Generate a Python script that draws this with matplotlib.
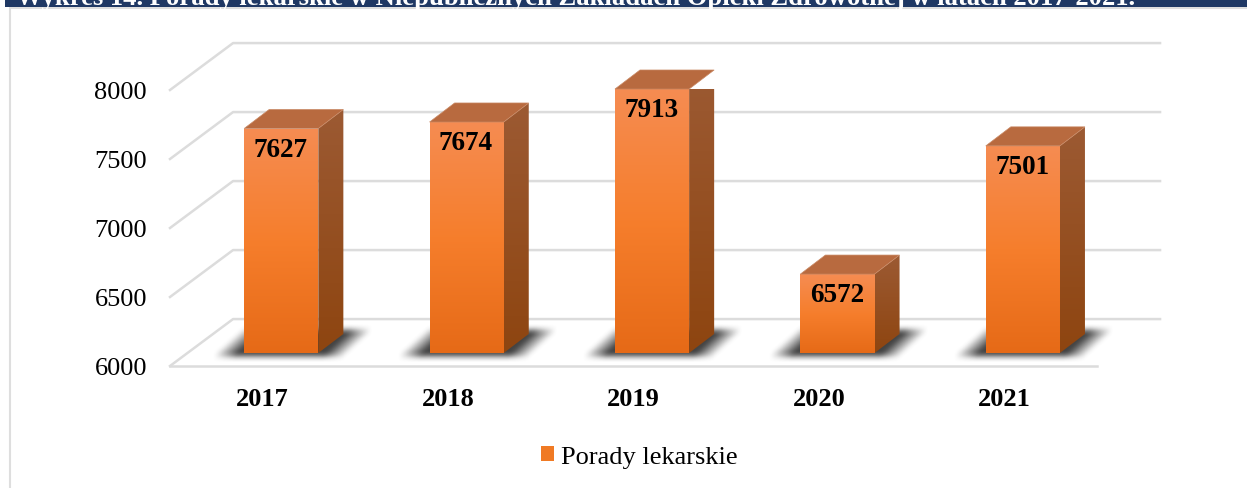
import numpy as np
import matplotlib
matplotlib.use("Agg")
import matplotlib.pyplot as plt
from matplotlib.colors import LinearSegmentedColormap
from matplotlib.patches import Patch, Polygon, Rectangle

plt.rcParams['font.family'] = ['Liberation Serif', 'DejaVu Serif']

years = ['2017', '2018', '2019', '2020', '2021']
porady = [7627, 7674, 7913, 6572, 7501]
yticks = [6000, 6500, 7000, 7500, 8000]
series_name = 'Porady lekarskie'
title = 'Wykres 14. Porady lekarskie w Niepublicznych Zakładach Opieki Zdrowotnej w latach 2017-2021.'

W, H = 1247, 489
fig = plt.figure(figsize=(W / 100, H / 100), dpi=100)
ax = fig.add_axes([170 / W, 1 - 367 / H, 927 / W, 276 / H])
ax.set_xlim(-0.5, 4.5)
ax.set_ylim(6000, 8000)

# depth of the fake 3d box, in data units
floor_dx, floor_dy = 0.34, 340
bar_off_x, bar_off_y = 0.10, 94
bar_dx, bar_dy = 0.135, 138
bar_w = 0.40

grid_c = '#dcdcdc'
for v in yticks:
    xs = [-0.5, -0.5 + floor_dx, 4.5 + floor_dx]
    ys = [v, v + floor_dy, v + floor_dy]
    ax.plot(xs, ys, color=grid_c, lw=1.8, clip_on=False, zorder=1)
ax.plot([-0.5, 4.5], [6000, 6000], color=grid_c, lw=1.8, clip_on=False, zorder=1)

front_cm = LinearSegmentedColormap.from_list('front', ['#e66a17', '#f67e2c', '#f58c52'])
side_cm = LinearSegmentedColormap.from_list('side', ['#8e4510', '#9c5a33'])


def gradient(poly, extent, cmap, z):
    g = np.linspace(0, 1, 128).reshape(-1, 1)
    im = ax.imshow(g, extent=extent, origin='lower', cmap=cmap, aspect='auto', zorder=z)
    patch = Polygon(poly, closed=True, transform=ax.transData, fill=False, lw=0)
    ax.add_patch(patch)
    patch.set_visible(False)
    im.set_clip_path(patch)
    im.set_clip_box(None)


def shadow(x0, y0):
    # soft shadow lying on the floor under one bar
    n = 140
    m = 260
    xx = np.linspace(x0 - 0.30, x0 + 0.72, m)
    yy = np.linspace(y0 - 110, y0 + 280, n)
    gx, gy = np.meshgrid(xx, yy)
    skew = (gy - y0 + 30) / (190 + 30) * 0.18
    mask = (gx > x0 - 0.12 + skew) & (gx < x0 + 0.47 + skew) & (gy > y0 - 28) & (gy < y0 + 165)
    a = mask.astype(float)
    kx = np.ones(31) / 31
    ky = np.ones(17) / 17
    for k, ax_n in ((kx, 1), (ky, 0), (ky, 0)):
        a = np.apply_along_axis(lambda r: np.convolve(r, k, mode='same'), ax_n, a)
    rgba = np.zeros((n, m, 4))
    rgba[..., :3] = 0.22
    rgba[..., 3] = a * 0.95
    ax.imshow(rgba, extent=[xx[0], xx[-1], yy[0], yy[-1]], origin='lower', aspect='auto',
              zorder=2, clip_on=False)


for i, val in enumerate(porady):
    x0 = i + bar_off_x - bar_w / 2
    x1 = x0 + bar_w
    y0 = 6000 + bar_off_y
    y1 = val + bar_off_y
    shadow(x0, y0)
    gradient([(x0, y0), (x1, y0), (x1, y1), (x0, y1)], [x0, x1, y0, y1], front_cm, 4)
    gradient([(x1, y0), (x1 + bar_dx, y0 + bar_dy), (x1 + bar_dx, y1 + bar_dy), (x1, y1)],
             [x1, x1 + bar_dx, y0, y1 + bar_dy], side_cm, 4)
    top = Polygon([(x0, y1), (x1, y1), (x1 + bar_dx, y1 + bar_dy), (x0 + bar_dx, y1 + bar_dy)],
                  closed=True, facecolor='#b86a3f', edgecolor='#c98a66', lw=0.5,
                  clip_on=False, zorder=4)
    ax.add_patch(top)
    ax.annotate(str(val), (i + bar_off_x, y1), xytext=(-0.5, -15), textcoords='offset points',
                ha='center', va='center', fontsize=19.5, fontweight='bold', color='black',
                zorder=6, annotation_clip=False)

ax.set_xlim(-0.5, 4.5)
ax.set_ylim(6000, 8000)
for s in ax.spines.values():
    s.set_visible(False)
ax.patch.set_alpha(0)
ax.set_yticks(yticks)
ax.tick_params(axis='y', length=0, pad=16.5, labelsize=19)
ax.set_xticks(range(len(years)))
ax.set_xticklabels(years, fontsize=19, fontweight='bold')
ax.tick_params(axis='x', length=0, pad=15)

handle = Patch(facecolor='#f07a24', edgecolor='none')
ax.legend([handle], [series_name], loc='center', bbox_to_anchor=(639 / W, 1 - 458 / H),
          bbox_transform=fig.transFigure, frameon=False, fontsize=19,
          handlelength=0.5, handleheight=0.5, handletextpad=0.27)

# frame of the embedded chart and the navy heading band
fig.patches.append(Rectangle((10 / W, -0.01), 1.1, 1 - 9 / H + 0.01, transform=fig.transFigure,
                             facecolor='none', edgecolor='#dedede', lw=1.5, figure=fig))
fig.patches.append(Rectangle((5 / W, 1 - 8 / H), 1 - 5 / W, 8 / H, transform=fig.transFigure,
                             facecolor='#1f3864', edgecolor='none', figure=fig))
fig.text(16 / W, 1 - 5 / H, title, color='white', fontsize=19.2, fontweight='bold',
         ha='left', va='baseline')

fig.savefig('out.png', dpi=100)
